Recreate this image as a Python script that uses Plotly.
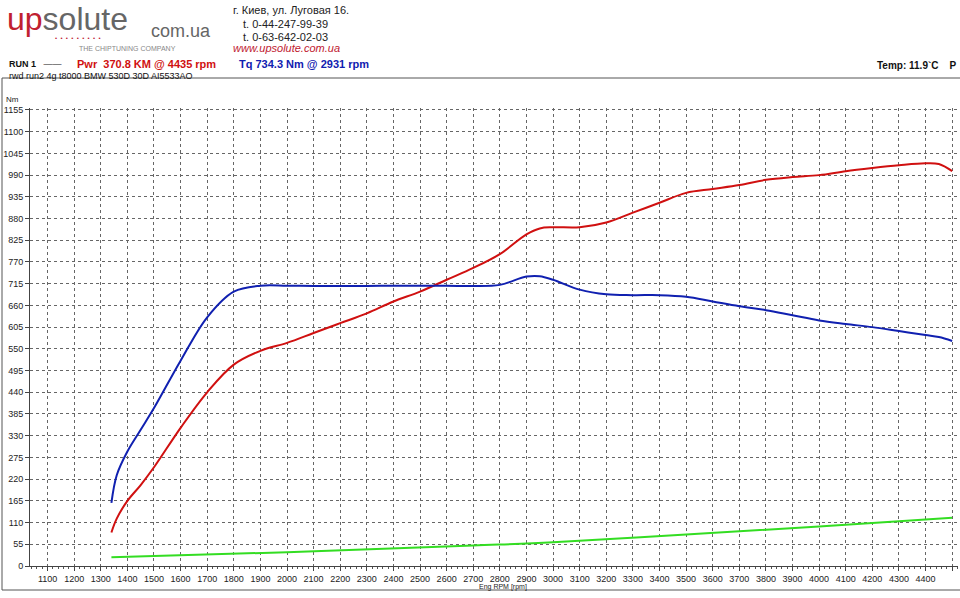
import plotly.graph_objects as go

rpm = [1340, 1360, 1400, 1450, 1500, 1600, 1700, 1800, 1900, 2000, 2100, 2200, 2300, 2400, 2500,
       2600, 2700, 2800, 2900, 2950, 3000, 3100, 3200, 3300, 3400, 3500, 3600, 3700, 3800, 3900,
       4000, 4100, 4200, 4300, 4400, 4450, 4500]
power = [85, 120, 165, 205, 250, 350, 440, 510, 545, 565, 590, 615, 640, 670, 695,
         725, 755, 790, 840, 855, 858, 858, 870, 895, 920, 945, 955, 965, 978, 985,
         990, 1000, 1008, 1015, 1020, 1018, 1000]
torque = [160, 230, 290, 345, 400, 520, 630, 695, 710, 710, 709, 709, 709, 710, 710,
          710, 709, 712, 733, 734, 725, 700, 688, 686, 686, 682, 670, 658, 648, 635,
          622, 613, 605, 595, 585, 580, 570]
loss_rpm = [1340, 2000, 2700, 3000, 3500, 4000, 4500]
loss = [22, 35, 52, 60, 80, 100, 122]
y_ticks = list(range(0, 1156, 55))
x_ticks = list(range(1100, 4501, 100))

W, H = 960, 598
L, R, T, B = 30, 2, 108, 32

def px(x):
    return (x - L) / (W - L - R)

def py(y):
    return (H - B - y) / (H - T - B)

fig = go.Figure()
fig.add_trace(go.Scatter(x=rpm, y=power, mode="lines", line=dict(color="#d01010", width=2, shape="spline")))
fig.add_trace(go.Scatter(x=rpm, y=torque, mode="lines", line=dict(color="#1020b0", width=2, shape="spline")))
fig.add_trace(go.Scatter(x=loss_rpm, y=loss, mode="lines", line=dict(color="#33dd22", width=2, shape="spline")))

grid = dict(showgrid=True, gridcolor="#666", griddash="dot", gridwidth=1, automargin=False)
fig.update_xaxes(range=[1034, 4522], tickvals=x_ticks, ticks="outside", ticklen=4,
                 minor=dict(dtick=20, ticks="outside", ticklen=2, tickcolor="#555"),
                 showline=True, linecolor="#444", tickfont=dict(size=9, color="#222"), **grid)
fig.update_yaxes(range=[0, 1160], tickvals=y_ticks, ticks="outside", ticklen=4,
                 showline=True, linecolor="#444", tickfont=dict(size=9, color="#222"),
                 zeroline=False, **grid)

fig.update_layout(
    width=W, height=H, showlegend=False, plot_bgcolor="white", paper_bgcolor="white",
    margin=dict(l=L, r=R, t=T, b=B), font=dict(family="Liberation Sans"),
    shapes=[dict(type="rect", xref="paper", yref="paper", x0=px(2), x1=px(1000), y0=py(590), y1=py(78),
                 line=dict(color="#555", width=1))],
)
ann = [
    (6, 0, "<span style='color:#c02030'>up</span><span style='color:#666'>solute</span>", 32, "#666", "left"),
    (54, 34, "•  •  •  •  •  •  •  •  •", 6, "#c02030", "left"),
    (150, 20, "com.ua", 18, "#666", "left"),
    (78, 44, "THE CHIPTUNING COMPANY", 7, "#888", "left"),
    (232, 3, "г. Киев, ул. Луговая 16.", 11, "#222", "left"),
    (242, 17, "t. 0-44-247-99-39", 11, "#222", "left"),
    (242, 30, "t. 0-63-642-02-03", 11, "#222", "left"),
    (232, 41, "<i>www.upsolute.com.ua</i>", 11, "#c02030", "left"),
    (8, 58, "<b>RUN 1</b>   ——", 9, "#111", "left"),
    (76, 57, "<b>Pwr  370.8 KM @ 4435 rpm</b>", 11, "#d01010", "left"),
    (238, 57, "<b>Tq 734.3 Nm @ 2931 rpm</b>", 11, "#1020b0", "left"),
    (8, 70, "rwd run2 4g t8000 BMW 530D 30D AI5533AO", 9, "#111", "left"),
    (876, 59, "<b>Temp: 11.9`C    P</b>", 10, "#111", "left"),
    (5, 94, "Nm", 8, "#222", "left"),
    (503, 582, "Eng RPM [rpm]", 7, "#222", "center"),
]
for x, y, t, s, c, anc in ann:
    fig.add_annotation(x=px(x), y=py(y), xref="paper", yref="paper", xanchor=anc, yanchor="top",
                       text=t, showarrow=False, borderpad=0, font=dict(size=s, color=c))
fig.write_html("out.html", config={"displayModeBar": False},
               post_script="document.body.style.margin='0';")
